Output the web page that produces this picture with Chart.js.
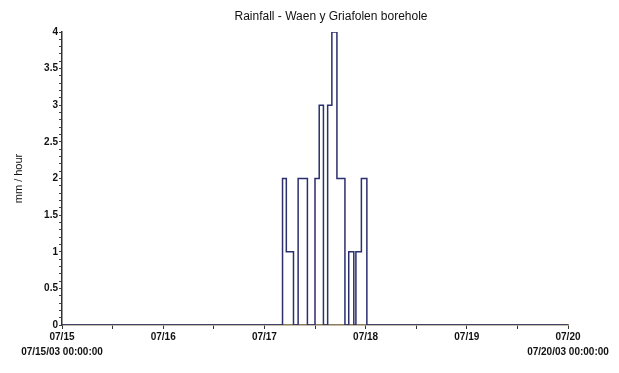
<!DOCTYPE html>
<html>
<head>
<meta charset="utf-8">
<script src="https://cdn.jsdelivr.net/npm/chart.js@4"></script>
<style>
html,body{margin:0;padding:0;background:#fff;}
#wrap{width:619px;height:373px;position:relative;}
</style>
</head>
<body>
<div id="wrap"><canvas id="c" width="619" height="373"></canvas></div>
<script>
// Hours since 07/15/03 00:00:00 at which the rainfall rate changes
const rainHours  = [0, 52.3, 53.2, 54.9, 56, 58.2, 60, 61, 62, 63, 64, 65.2, 67.1, 68, 69.2, 69.7, 71, 72.3, 120];
// Rainfall rate (mm / hour) from that hour on
const rainValues = [0, 2,    1,    0,    2,  0,    2,  3,  0,  3,  4,  2,    0,    1,  0,    1,    2,  0,    0];
const dayLabels  = ['07/15', '07/16', '07/17', '07/18', '07/19', '07/20'];
const edgeLabels = ['07/15/03 00:00:00', '', '', '', '', '07/20/03 00:00:00'];
const yTickLabels = ['0', '0.5', '1', '1.5', '2', '2.5', '3', '3.5', '4'];
const chartTitle = 'Rainfall - Waen y Griafolen borehole';
const yTitle = 'mm / hour';

const points = rainHours.map((h, i) => ({x: h, y: rainValues[i]}));
const tickFont = {family: "'Liberation Sans Narrow', 'Arial Narrow', 'Liberation Sans', sans-serif", size: 10, weight: 'bold', lineHeight: 1.5};

const titlePlugin = {
  id: 'offsetTitle',
  afterDraw(chart) {
    const ctx = chart.ctx;
    ctx.save();
    ctx.font = "12px 'Liberation Sans', Arial, sans-serif";
    ctx.fillStyle = '#111';
    ctx.textAlign = 'center';
    ctx.textBaseline = 'middle';
    ctx.fillText(chartTitle, 331, 17);
    ctx.restore();
  }
};

new Chart(document.getElementById('c'), {
  type: 'line',
  data: {
    datasets: [{
      data: points,
      stepped: true,
      borderColor: '#2b2f6e',
      borderWidth: 1.5,
      pointRadius: 0,
      fill: false,
      tension: 0
    }]
  },
  options: {
    responsive: false,
    animation: false,
    layout: {padding: {top: 32, right: 51, bottom: 0, left: 0}},
    plugins: {legend: {display: false}, tooltip: {enabled: false}, title: {display: false}},
    scales: {
      x: {
        type: 'linear',
        min: 0, max: 120,
        afterFit(s) { s.height = 48; },
        ticks: {
          stepSize: 12,
          autoSkip: false,
          maxRotation: 0,
          padding: 1,
          color: '#111',
          font: tickFont,
          callback(v) {
            if (v % 24 !== 0) return '';
            const i = v / 24;
            return edgeLabels[i] ? [dayLabels[i], edgeLabels[i]] : dayLabels[i];
          }
        },
        grid: {drawOnChartArea: false, drawTicks: true, tickLength: 4, color: '#333'},
        border: {color: '#8b7d5a', width: 1.5}
      },
      y: {
        min: 0, max: 4,
        afterFit(s) { s.width = 62; },
        ticks: {
          stepSize: 0.1,
          autoSkip: false,
          padding: 1,
          color: '#111',
          font: tickFont,
          callback(v) {
            const k = Math.round(v * 10);
            return k % 5 === 0 ? yTickLabels[k / 5] : '';
          }
        },
        title: {display: true, text: yTitle, color: '#111', padding: {top: 12, bottom: 0},
                font: {family: "'Liberation Sans', Arial, sans-serif", size: 11}},
        grid: {drawOnChartArea: false, drawTicks: true, tickLength: 3, color: '#444'},
        border: {color: '#333', width: 1.5}
      }
    }
  },
  plugins: [titlePlugin]
});
</script>
</body>
</html>
